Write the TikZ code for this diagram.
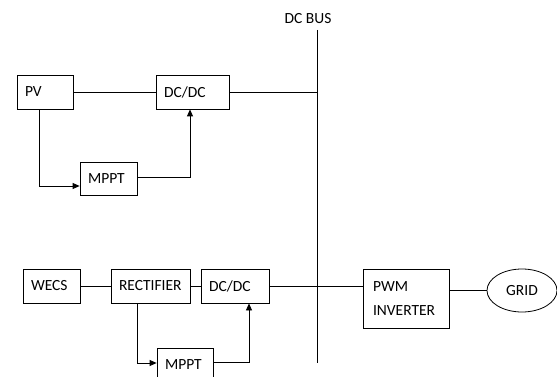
\documentclass[tikz,border=0pt]{standalone}
\usepackage{fontspec}
\setmainfont{Carlito}
\usetikzlibrary{arrows.meta,shapes.geometric}
\begin{document}
\begin{tikzpicture}[x=1pt,y=-1pt,
 box/.style={draw, line width=0.8pt, inner xsep=8pt, inner ysep=0pt, align=left, font=\fontsize{15.5}{18}\selectfont},
 ln/.style={line width=0.8pt},
 arr/.style={line width=0.8pt, -{Triangle[length=7pt,width=6pt]}}]
\useasboundingbox (0,0) rectangle (557,377);
\clip (0,0) rectangle (557,377);
% top branch
\node[box, text width=40pt, minimum height=34pt] (pv) at (45,92) {PV};
\node[box, text width=57pt, minimum height=34pt] (dc1) at (192.5,92) {DC/DC};
\node[box, text width=41pt, minimum height=33pt] (mppt1) at (108.5,178.5) {MPPT};
% bus
\coordinate (bt) at (317,30);
\coordinate (bb) at (317,363);
\node[font=\fontsize{15.5}{18}\selectfont] (buslbl) at (308,19) {DC BUS};
\draw[ln] (bt) -- (bb);
% bottom branch
\node[box, text width=41pt, minimum height=34pt] (wecs) at (51.5,286) {WECS};
\node[box, text width=63pt, minimum height=34pt] (rect) at (150.5,286) {RECTIFIER};
\node[box, text width=52pt, minimum height=34pt] (dc2) at (235,286) {DC/DC};
\node[box, text width=40pt, minimum height=34pt] (mppt2) at (185,365) {MPPT};
\node[box, inner xsep=10pt, text width=66pt, minimum height=59pt, font=\fontsize{15.5}{24}\selectfont] (pwm) at (406,298.5) {PWM\\INVERTER};
\node[draw, ellipse, line width=0.8pt, minimum width=70pt, minimum height=43pt, inner sep=0pt, font=\fontsize{15.5}{18}\selectfont] (grid) at (522,290.5) {GRID};
% connectors top
\draw[ln] (pv) -- (dc1);
\draw[ln] (dc1.east) -- (dc1.east -| bt);
\draw[arr] ([xshift=-6pt]pv.south) |- ([yshift=-7.5pt]mppt1.west);
\draw[arr] ([yshift=1.5pt]mppt1.east) -| ([xshift=-2.5pt]dc1.south);
% connectors bottom
\draw[ln] (wecs) -- (rect);
\draw[ln] (rect) -- (dc2);
\draw[ln] (dc2.east) -- (dc2.east -| pwm.west);
\draw[ln] (grid.west -| pwm.east) -- (grid.west);
\draw[arr] ([xshift=-13.5pt]rect.south) |- ([yshift=2pt]mppt2.west);
\draw[arr] ([yshift=3pt]mppt2.east) -| ([xshift=14pt]dc2.south);
\end{tikzpicture}
\end{document}
